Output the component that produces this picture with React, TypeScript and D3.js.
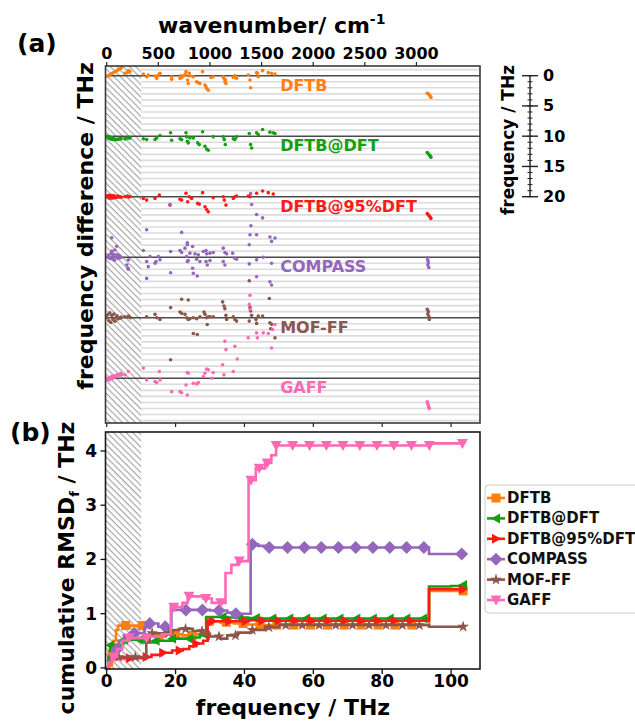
import React from "react";
import * as d3 from "d3";

type P = [number, number];

const seriesNames = ["DFTB", "DFTB@DFT", "DFTB@95%DFT", "COMPASS", "MOF-FF", "GAFF"];
const seriesColors = ["#ff7f0e", "#12a012", "#ff1a1a", "#9467bd", "#8c564b", "#ff69b4"];
const rowOffsets = [0, 10, 20, 30, 40, 50];

// Panel (a): [wavenumber cm-1, frequency difference THz]
const diffDFTB: P[] = [
  [0, 0.1], [15, 0], [30, -0.15], [45, -0.3], [60, -0.45], [75, -0.6], [90, -0.75], [105, -0.9], [120, -1.05], [135, -1.2], [145, -1.4],
  [177, -0.4], [200, -0.5], [210, -0.85], [226, -0.7],
  [355, -0.28], [387, 0.17], [403, -0.1], [468, 0.06], [484, 0.44], [495, 0], [510, -0.28], [516, -0.39], [629, 0.17], [629, 0.61],
  [710, 0.44], [720, 0], [726, 0.28], [742, 0.06], [760, -0.2], [768, -0.67], [784, 0.72], [790, 1.28], [800, -0.39], [806, 0.06],
  [839, 0.17], [871, 1.0], [887, 1.17], [903, 1.28], [929, -0.67], [952, 1.56], [962, 1.83], [968, 2.11], [984, 2.39], [1010, 0.3],
  [1032, 0.17], [1129, 0.17], [1136, 0.44], [1145, 1.0], [1150, 0.7], [1155, 1.28], [1226, 0.28], [1240, 0], [1242, 0.06], [1258, 0.44],
  [1371, -0.11], [1388, 0.72], [1394, 2.0], [1452, -0.5], [1460, -0.4], [1468, 0.17], [1510, -0.83], [1565, -0.5], [1597, -0.39], [1630, -0.28],
  [3105, 2.9], [3115, 3.0], [3125, 3.2], [3135, 3.4], [3140, 3.6],
];
const diffDFTBatDFT: P[] = [
  [0, 0], [10, 0.1], [15, 0.3], [20, 0.15], [30, 0.2], [35, 0.45], [40, 0.25], [50, 0.3], [55, 0.55], [60, 0.4], [70, 0.45], [75, 0.6],
  [80, 0.5], [90, 0.55], [100, 0.55], [110, 0.5], [125, 0.45], [140, 0.4], [177, 0.45], [200, 0.3], [210, 0.3], [226, 0.3],
  [355, 0.44], [387, 0.56], [468, 0.56], [484, 0.28], [516, -0.11], [619, -0.56], [629, 0.67], [710, 0.44], [726, 0.56], [768, -0.56],
  [774, 0.11], [781, 0.83], [790, 1.11], [806, 0.28], [839, 0.28], [881, 1.11], [897, 1.39], [929, -0.72], [952, 1.67], [968, 2.11],
  [984, 2.33], [1032, 0.11], [1129, 0.11], [1139, 0.56], [1149, 1.39], [1226, 0.44], [1242, 0.56], [1258, 0.11], [1381, -0.44],
  [1394, 1.39], [1404, 1.94], [1452, -0.56], [1468, -0.28], [1510, -1.11], [1581, -0.67], [1613, -0.56], [1630, -0.44],
  [3105, 2.7], [3115, 2.9], [3125, 3.1], [3135, 3.3], [3140, 3.5],
];
const diffDFTBat95: P[] = [
  [0, 0], [10, -0.2], [20, 0.2], [30, -0.25], [40, 0.25], [50, -0.2], [60, 0.2], [70, -0.15], [80, 0.15], [90, 0], [100, 0.1],
  [110, -0.1], [120, 0.05], [130, 0], [140, 0.1], [177, 0], [200, -0.1], [210, 0.05], [226, 0],
  [355, 0.28], [387, 0.56], [468, 0.28], [510, -0.28], [613, 1.39], [710, 0.44], [726, 0.56], [768, -0.56], [784, 0.83], [800, 0],
  [823, 0.28], [881, 1.11], [897, 1.22], [929, -0.67], [952, 1.67], [968, 2.11], [984, 2.5], [1032, 0.17], [1129, 0], [1139, 0.56],
  [1155, 1.39], [1226, 0.28], [1242, 0], [1258, -0.11], [1371, -0.11], [1388, 0], [1452, -0.56], [1510, -0.94], [1565, -0.67], [1613, -0.44],
  [3105, 2.8], [3115, 3.0], [3125, 3.2], [3135, 3.4], [3140, 3.6],
];
const diffCOMPASS: P[] = [
  [0, 0], [15, -0.3], [20, -0.1], [30, 0.2], [40, -0.6], [48, -3.2], [50, -1.0], [55, 0.3], [60, -0.2], [70, -0.5], [75, 0.5],
  [80, -1.2], [90, 0], [97, -1.8], [100, -0.4], [110, 0.2], [120, -0.3], [130, 0.1], [140, 0],
  [210, 0.44], [194, 1.28], [205, 1.8], [210, 2.0],
  [387, -4.55], [355, -1.11], [419, -0.11], [387, 0.72], [468, 1.0], [477, 0.72], [500, -0.11], [516, 0.44], [403, 1.56], [387, 3.5],
  [619, -0.94], [619, 2.56], [613, -8.7], [710, -1.11], [726, -0.78], [726, -4.1], [758, -1.5], [781, -2.06], [781, -2.4], [832, -1.78],
  [774, -0.11], [781, 0.72], [790, 0.56], [806, -0.67], [855, -0.56], [871, 0.33], [887, -0.39], [903, 0.72], [832, 1.83], [839, 2.67],
  [877, 3.11], [936, -0.94], [962, -1.11], [962, 0.72], [968, -0.56], [974, 1.28], [1000, -0.67], [1000, 0.56], [1032, -0.78],
  [1129, -1.5], [1145, -0.78], [1162, -0.56], [1129, 0.72], [1145, 1.28], [1220, -0.67], [1242, 0.17], [1258, 0.33],
  [1381, -2.06], [1381, 1.11], [1388, -3.72], [1394, -10.5], [1404, -8.7], [1397, -5.2], [1452, -7.05], [1510, -6.5], [1452, -3.72],
  [1452, 0.44], [1516, 0], [1597, 1.0], [1581, -3.33], [1630, -3.17], [1597, -2.61], [1452, 3.22], [1581, 4.06], [1597, 4.6],
  [3105, 0.1], [3110, 0.5], [3115, 0.9], [3110, 1.3], [3120, 1.7],
];
const diffMOFFF: P[] = [
  [0, 0], [10, -0.5], [20, 0.5], [30, -0.8], [40, 0.8], [50, -0.4], [60, 0.3], [70, -0.6], [80, 0.6], [90, 0], [100, -0.3],
  [110, 0.2], [120, 0], [130, 0.1], [140, -0.1], [177, -0.17], [210, -0.28], [230, 0],
  [387, -0.17], [468, -0.56], [484, 0], [516, 0.28], [619, -1.67], [619, 6.94], [726, -3.06], [790, -2.94], [710, -0.94], [726, -0.72],
  [758, -0.56], [774, 0], [790, 0.28], [806, 0.17], [839, 0], [839, 2.61], [877, 2.78], [871, 0.17], [903, -0.17], [942, -0.94],
  [952, -0.56], [968, 0], [974, 1.11], [984, -0.17], [1000, -0.17], [1032, -0.17], [1123, -2.61], [1136, -1.94], [1145, -1.5],
  [1155, -0.39], [1162, 0.28], [1226, -0.17], [1242, 0.28], [1258, 0.56], [1381, -6.1], [1388, -1.67], [1394, -1.11], [1404, -0.39],
  [1381, 0.56], [1446, 0.28], [1452, 0.94], [1468, -0.28], [1510, -0.28], [1581, 0.83], [1588, 1.83], [1630, 3.33], [1575, -3.17], [1597, 1.1],
  [3105, -1.4], [3115, -1.0], [3110, -0.6], [3120, -0.2], [3125, 0.3],
];
const diffGAFF: P[] = [
  [0, 0], [10, 0.2], [15, 0.3], [20, 0], [25, 0.25], [30, -0.1], [40, 0.1], [50, -0.3], [60, 0], [70, -0.4], [80, -0.2], [90, -0.5],
  [100, -0.4], [110, -0.6], [120, -0.5], [135, -0.8], [145, -0.6], [177, -0.56], [210, -1.11],
  [355, -1.67], [387, 0.28], [468, 0.56], [484, 0.72], [510, -1.11], [516, 0.28], [629, 2.22], [710, 2.22], [726, 2.39],
  [781, -0.94], [790, -0.83], [768, 1.11], [781, 2.78], [839, 0.83], [871, 0.94], [887, 0.72], [936, -0.28], [952, -0.83],
  [968, -1.5], [984, -1.39], [1016, 0], [1032, -0.94], [1145, -6.1], [1155, -4.72], [1242, -5.28], [1265, -3.17], [1123, -2.22],
  [1136, -0.56], [1226, -1.11], [1388, -13.7], [1381, -12.2], [1388, -11.4], [1371, -6.67], [1452, -7.5], [1459, -6.67], [1516, -7.5],
  [1565, -7.39], [1607, -8.06], [1630, -8.89], [1597, -5.0],
  [3105, 3.9], [3110, 4.2], [3115, 4.5], [3120, 4.8], [3125, 5.0],
];
const diffSets = [diffDFTB, diffDFTBatDFT, diffDFTBat95, diffCOMPASS, diffMOFFF, diffGAFF];

// Panel (b): cumulative RMSD step breakpoints [frequency THz, RMSD THz]
const rmsdDFTB: P[] = [[0, 0], [0.8, 0.05], [1.5, 0.25], [2, 0.5], [2.7, 0.7], [3.3, 0.78], [10.5, 0.78], [10.8, 0.62], [13, 0.58], [17, 0.62], [22, 0.6], [25, 0.62], [29.2, 0.86], [33, 0.84], [37, 0.82], [41, 0.8], [45, 0.79], [93.2, 0.79], [93.6, 1.42], [103.5, 1.42]];
const rmsdDFTBatDFT: P[] = [[0, 0], [0.5, 0.2], [1, 0.42], [4.5, 0.45], [5, 0.52], [10, 0.52], [11, 0.47], [14, 0.5], [19, 0.54], [24, 0.56], [27, 0.6], [28.9, 0.94], [35, 0.93], [41, 0.92], [45, 0.91], [93.2, 0.91], [93.6, 1.5], [100, 1.51], [103.5, 1.53]];
const rmsdDFTBat95: P[] = [[0, 0], [0.5, 0.1], [1, 0.18], [9, 0.18], [11, 0.2], [13, 0.24], [16, 0.28], [19, 0.32], [22, 0.35], [24, 0.4], [26, 0.45], [28, 0.5], [29.3, 0.86], [41, 0.88], [45, 0.87], [93.2, 0.87], [93.6, 1.45], [103.5, 1.45]];
const rmsdCOMPASS: P[] = [[0, 0], [0.5, 0.1], [1, 0.2], [2, 0.35], [3.5, 0.5], [5, 0.6], [8, 0.64], [11, 0.75], [12.5, 0.82], [15, 0.76], [18.8, 1.07], [25, 1.07], [30, 1.06], [35, 1.02], [37, 1.0], [41.8, 2.28], [44, 2.25], [47, 2.22], [93.2, 2.22], [93.6, 2.1], [103.5, 2.1]];
const rmsdMOFFF: P[] = [[0, 0], [0.5, 0.1], [1.2, 0.2], [11, 0.2], [11.5, 0.48], [12.5, 0.64], [19, 0.7], [21, 0.72], [25, 0.68], [28, 0.63], [30, 0.58], [33, 0.54], [35, 0.6], [38, 0.65], [42, 0.7], [46, 0.75], [50, 0.79], [93.2, 0.79], [93.6, 0.76], [103.5, 0.76]];
const rmsdGAFF: P[] = [[0, 0], [0.5, 0.1], [1.5, 0.2], [3, 0.35], [4.5, 0.5], [6, 0.55], [12, 0.58], [16, 0.62], [18.6, 1.12], [22, 1.2], [23.5, 1.32], [28, 1.28], [30.5, 1.2], [34.5, 1.75], [36.2, 1.9], [38, 1.97], [41.2, 3.46], [43.3, 3.68], [46, 3.78], [47.8, 3.92], [49.2, 4.1], [93.5, 4.1], [93.8, 4.14], [103.5, 4.14]];
const rmsdSets = [rmsdDFTB, rmsdDFTBatDFT, rmsdDFTBat95, rmsdCOMPASS, rmsdMOFFF, rmsdGAFF];

// marker frequencies (THz)
const mkDFTB = [1.5, 5.5, 10.3, 15.2, 20, 24.8, 29.8, 34.7, 39.6, 44.5, 49.4, 54.3, 59.2, 64.1, 69, 73.9, 78.8, 83.7, 88.6, 103.5];
const mkDFTBatDFT = [1, 5, 9.5, 14.2, 19, 23.9, 28.8, 33.6, 38.5, 43.3, 48.1, 53, 57.9, 62.7, 67.6, 72.5, 77.3, 82.2, 87, 91.9, 103.5];
const mkDFTBat95 = [2, 6.8, 11.6, 16.4, 21.2, 26, 30.8, 35.6, 40.4, 45.2, 50, 54.8, 59.6, 64.4, 69.2, 74, 78.8, 83.6, 88.4, 103.5];
const mkCOMPASS = [3, 8, 12.5, 17, 23, 27.8, 32.6, 37.5, 42.3, 47.2, 52.5, 57.4, 62.3, 67.3, 72.3, 77.3, 82.2, 87.1, 92.1, 103.1];
const mkMOFFF = [3.5, 8.3, 13.2, 18, 22.9, 27.7, 32.6, 37.4, 42.3, 47.1, 52, 56.8, 61.7, 66.5, 71.4, 76.2, 81.1, 85.9, 90.8, 103.5];
const mkGAFF = [2, 6.5, 11.5, 19.5, 23.9, 28.8, 33.1, 38.5, 41.9, 44.3, 46.6, 49.2, 54, 58.9, 63.8, 68.6, 73.5, 78.5, 83.4, 88.5, 93.7, 103.3];
const markerSets = [mkDFTB, mkDFTBatDFT, mkDFTBat95, mkCOMPASS, mkMOFFF, mkGAFF];

const wavenumberTicks = [0, 500, 1000, 1500, 2000, 2500, 3000];
const freqTicks = [0, 20, 40, 60, 80, 100];
const rmsdTicks = [0, 1, 2, 3, 4];
const rightTicks = [0, 5, 10, 15, 20];

const CM_PER_THZ = 33.356;
const FONT = "'DejaVu Sans', Verdana, sans-serif";

const markerPaths = [
  "M-4.5,-4.5h9v9h-9z",
  "M-5,0L4,-5L4,5Z",
  "M5,0L-4,-5L-4,5Z",
  "M0,-6.5L6.5,0L0,6.5L-6.5,0Z",
  d3.symbol(d3.symbolStar, 42)() as string,
  "M-5.5,-4.5L5.5,-4.5L0,5.5Z",
];

function stepValue(steps: P[], f: number) {
  let v = steps[0][1];
  for (const [x, y] of steps) if (x <= f) v = y;
  return v;
}

export default function App() {
  const left = 105.5, right = 480;
  const aTop = 66, aBot = 423, bTop = 432, bBot = 669;
  const x = d3.scaleLinear().domain([-0.35, 108.4]).range([left, right]);
  const xw = d3.scaleLinear().domain([-0.35 * CM_PER_THZ, 108.4 * CM_PER_THZ]).range([left, right]);
  const ya = d3.scaleLinear().domain([-1.6, 57.4]).range([aTop, aBot]);
  const yb = d3.scaleLinear().domain([-0.02, 4.35]).range([bBot, bTop]);
  const line = d3.line<P>().x((d) => x(d[0])).y((d) => yb(d[1])).curve(d3.curveStepAfter);
  const gridVals = d3.range(-1, 58).filter((v) => !(v % 10 === 0 && v >= 0 && v <= 50));
  const minorRight = d3.range(0, 21);
  const axisX = 530;

  return (
    <svg width={635} height={724} style={{ display: "block", position: "absolute", left: 0, top: 0 }} fontFamily={FONT} fontWeight="bold">
      <defs>
        <pattern id="hatch" patternUnits="userSpaceOnUse" width="4.5" height="4.5" patternTransform="rotate(45)">
          <rect width="4.5" height="4.5" fill="white" />
          <line x1="0" y1="0.6" x2="4.5" y2="0.6" stroke="#a0a0a0" strokeWidth="1.1" />
        </pattern>
        <clipPath id="clipA"><rect x={left} y={aTop} width={right - left} height={aBot - aTop} /></clipPath>
        <clipPath id="clipB"><rect x={left} y={bTop} width={right - left} height={bBot - bTop} /></clipPath>
      </defs>
      <rect width={635} height={724} fill="white" />

      {/* ===== Panel (a) ===== */}
      <text x={17} y={52} fontSize={25}>(a)</text>
      <text x={158} y={33} fontSize={22}>wavenumber/ cm<tspan fontSize={14} dy={-9}>-1</tspan></text>
      {gridVals.map((v) => (
        <line key={"g" + v} x1={left} x2={right} y1={ya(v)} y2={ya(v)} stroke="#dcdcdc" strokeWidth={1.6} />
      ))}
      <rect x={left} y={aTop} width={x(10) - left} height={aBot - aTop} fill="url(#hatch)" />
      {rowOffsets.map((o) => (
        <line key={"b" + o} x1={left} x2={right} y1={ya(o)} y2={ya(o)} stroke="#4a4a4a" strokeWidth={1.6} />
      ))}
      <g clipPath="url(#clipA)">
        {diffSets.map((set, i) => (
          <g key={"s" + i} fill={seriesColors[i]}>
            {set.map((d, j) => (
              <circle key={j} cx={xw(d[0])} cy={ya(rowOffsets[i] + d[1])} r={1.8} />
            ))}
          </g>
        ))}
      </g>
      {seriesNames.map((n, i) => (
        <text key={"lab" + n} x={xw(1680)} y={ya(rowOffsets[i] + 2.5)} fontSize={16} fill={seriesColors[i]}>{n}</text>
      ))}
      <rect x={left} y={aTop} width={right - left} height={aBot - aTop} fill="none" stroke="#3a3a3a" strokeWidth={1.6} />
      {wavenumberTicks.map((t) => (
        <g key={"wt" + t}>
          <line x1={xw(t)} x2={xw(t)} y1={aTop} y2={aTop - 4} stroke="#222" strokeWidth={1.2} />
          <text x={xw(t)} y={59} fontSize={16} textAnchor="middle">{t}</text>
        </g>
      ))}
      {freqTicks.map((t) => (
        <line key={"ft" + t} x1={x(t)} x2={x(t)} y1={aBot} y2={aBot + 4} stroke="#222" strokeWidth={1.2} />
      ))}
      <text transform={`translate(93,226) rotate(-90)`} fontSize={22} textAnchor="middle">frequency difference / THz</text>

      {/* right scale axis */}
      <line x1={axisX} x2={axisX} y1={ya(0)} y2={ya(20)} stroke="#222" strokeWidth={1.4} />
      {minorRight.map((t) => (
        <line key={"mr" + t} x1={axisX - 2.5} x2={axisX + 2.5} y1={ya(t)} y2={ya(t)} stroke="#222" strokeWidth={1} />
      ))}
      {rightTicks.map((t) => (
        <g key={"rt" + t}>
          <line x1={axisX - 8} x2={axisX + 8} y1={ya(t)} y2={ya(t)} stroke="#222" strokeWidth={1.4} />
          <text x={543} y={ya(t)} fontSize={16} dominantBaseline="central">{t}</text>
        </g>
      ))}
      <text transform={`translate(514,140) rotate(-90)`} fontSize={17} textAnchor="middle">frequency / THz</text>

      {/* ===== Panel (b) ===== */}
      <text x={10} y={441} fontSize={25}>(b)</text>
      <rect x={left} y={bTop} width={x(10) - left} height={bBot - bTop} fill="url(#hatch)" />
      <g clipPath="url(#clipB)">
        {rmsdSets.map((s, i) => (
          <g key={"r" + i}>
            <path d={line(s) as string} fill="none" stroke={seriesColors[i]} strokeWidth={2.6} strokeLinejoin="miter" />
            {markerSets[i].map((f, j) => (
              <path key={j} d={markerPaths[i]} transform={`translate(${x(f)},${yb(stepValue(s, f))})`} fill={seriesColors[i]} />
            ))}
          </g>
        ))}
      </g>
      <rect x={left} y={bTop} width={right - left} height={bBot - bTop} fill="none" stroke="#1a1a1a" strokeWidth={1.6} />
      {freqTicks.map((t) => (
        <g key={"bt" + t}>
          <line x1={x(t)} x2={x(t)} y1={bBot} y2={bBot + 5} stroke="#111" strokeWidth={1.3} />
          <text x={x(t)} y={687} fontSize={17} textAnchor="middle">{t}</text>
        </g>
      ))}
      {rmsdTicks.map((t) => (
        <g key={"yt" + t}>
          <line x1={left} x2={left - 5} y1={yb(t)} y2={yb(t)} stroke="#111" strokeWidth={1.3} />
          <text x={97} y={yb(t)} fontSize={17} textAnchor="end" dominantBaseline="central">{t}</text>
        </g>
      ))}
      <text x={293} y={715} fontSize={22} textAnchor="middle">frequency / THz</text>
      <text transform={`translate(74,568) rotate(-90)`} fontSize={22} textAnchor="middle">
        cumulative RMSD<tspan fontSize={13} dy={5}>f</tspan><tspan dy={-5}> / THz</tspan>
      </text>

      {/* legend */}
      <rect x={485} y={485} width={170} height={128} rx={4} fill="white" stroke="#cccccc" strokeWidth={1} />
      {seriesNames.map((n, i) => {
        const cy = 498 + i * 20.4;
        return (
          <g key={"lg" + n}>
            <line x1={487} x2={505} y1={cy} y2={cy} stroke={seriesColors[i]} strokeWidth={2.6} />
            <path d={markerPaths[i]} transform={`translate(496,${cy})`} fill={seriesColors[i]} />
            <text x={507} y={cy} fontSize={15} dominantBaseline="central" fill="#111">{n}</text>
          </g>
        );
      })}
    </svg>
  );
}
